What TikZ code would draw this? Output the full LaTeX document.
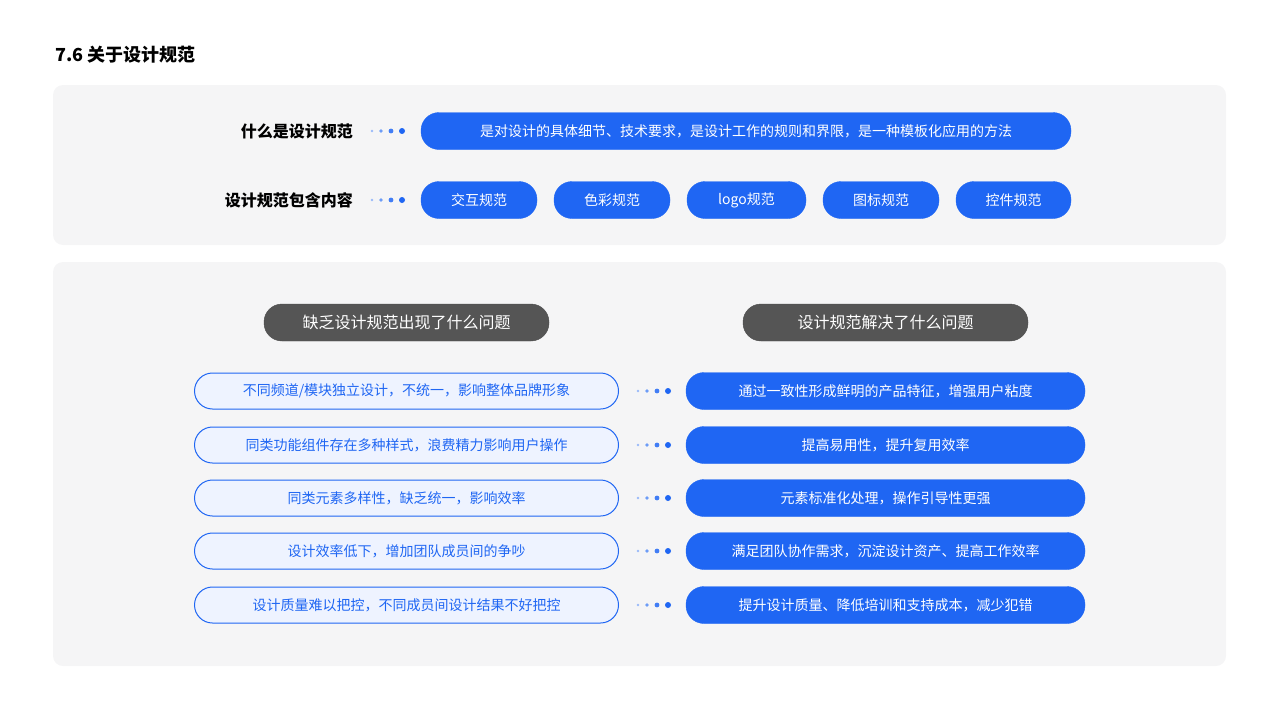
\documentclass[tikz,border=0pt]{standalone}
\usepackage{fontspec}
\setmainfont{Noto Sans CJK SC}
\definecolor{bl}{HTML}{1F66F3}
\definecolor{pan}{HTML}{F5F5F6}
\definecolor{lite}{HTML}{EEF3FF}
\definecolor{dk}{HTML}{555555}
\begin{document}
\begin{tikzpicture}[x=1pt,y=-1pt,
 panel/.style={fill=pan,rounded corners=10pt},
 bpill/.style={fill=bl,draw=bl,rounded corners=18pt,text=white,font=\fontsize{14}{16}\selectfont,minimum height=37pt,inner sep=0pt},
 lpill/.style={fill=lite,draw=bl,line width=1pt,rounded corners=18pt,text=bl,font=\fontsize{14}{16}\selectfont,minimum height=36pt,minimum width=424pt,inner sep=0pt},
 rpill/.style={bpill,minimum width=399pt},
 hpill/.style={fill=dk,draw=black!70,rounded corners=18pt,text=white,font=\fontsize{16}{18}\selectfont,minimum height=37pt,minimum width=285pt,inner sep=0pt},
 lab/.style={anchor=east,font=\bfseries\fontsize{16}{18}\selectfont,inner sep=0pt}]
\useasboundingbox (0,0) rectangle (1280,720);
\node[anchor=west,font=\bfseries\fontsize{18}{20}\selectfont,inner sep=0pt] (title) at (55,55) {7.6 关于设计规范};
\fill[panel] (53,85) rectangle (1226,245);
\fill[panel] (53,262) rectangle (1226,666);
\newcommand{\mydots}[2]{%
 \fill[bl!45] (#1,#2) circle (1.3);
 \fill[bl!65] (#1+9,#2) circle (1.8);
 \fill[bl!85] (#1+19,#2) circle (2.4);
 \fill[bl] (#1+30,#2) circle (3);}
\node[lab] (l1) at (353,131) {什么是设计规范};
\node[lab] (l2) at (353,200) {设计规范包含内容};
\mydots{372}{131}
\mydots{372}{200}
\node[bpill,minimum width=650pt] (p0) at (746,131) {是对设计的具体细节、技术要求，是设计工作的规则和界限，是一种模板化应用的方法};
\node[bpill,minimum width=116pt] (q1) at (479,200) {交互规范};
\node[bpill,minimum width=116pt] (q2) at (612,200) {色彩规范};
\node[bpill,minimum width=119pt] (q3) at (746.5,200) {logo规范};
\node[bpill,minimum width=116pt] (q4) at (881,200) {图标规范};
\node[bpill,minimum width=115pt] (q5) at (1013.5,200) {控件规范};
\node[hpill] (h1) at (406.5,322.5) {缺乏设计规范出现了什么问题};
\node[hpill] (h2) at (885.5,322.5) {设计规范解决了什么问题};
\foreach \y/\a/\b [count=\i] in {
 391/{不同频道/模块独立设计，不统一，影响整体品牌形象}/{通过一致性形成鲜明的产品特征，增强用户粘度},
 445/{同类功能组件存在多种样式，浪费精力影响用户操作}/{提高易用性，提升复用效率},
 498/{同类元素多样性，缺乏统一，影响效率}/{元素标准化处理，操作引导性更强},
 551/{设计效率低下，增加团队成员间的争吵}/{满足团队协作需求，沉淀设计资产、提高工作效率},
 605/{设计质量难以把控，不同成员间设计结果不好把控}/{提升设计质量、降低培训和支持成本，减少犯错}}{
 \node[lpill] (a\i) at (406.5,\y) {\a};
 \node[rpill] (b\i) at (885.5,\y) {\b};
 \mydots{638}{\y}
}
\end{tikzpicture}
\end{document}
